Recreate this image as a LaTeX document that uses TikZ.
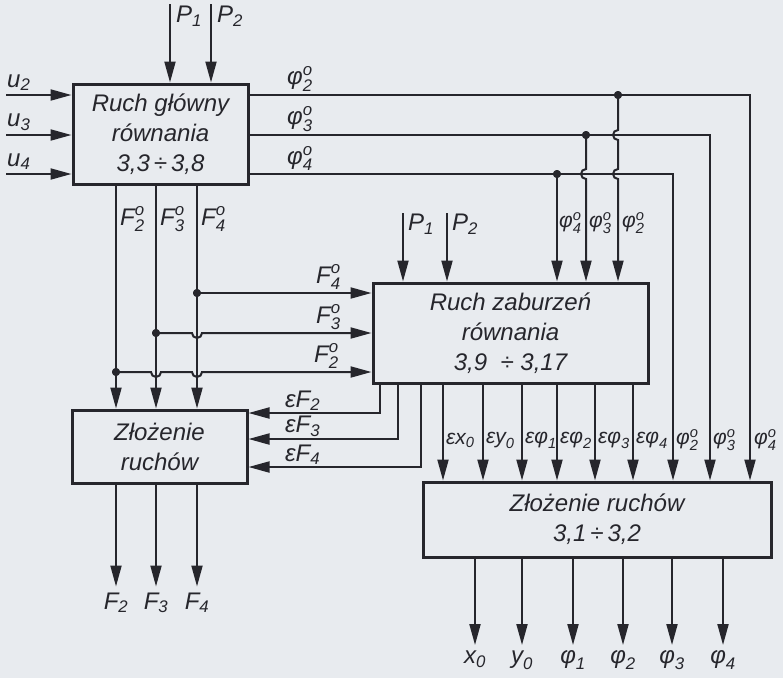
\documentclass[tikz,border=0pt]{standalone}
\usepackage{fontspec}
\usepackage{amsmath}
\setmainfont{Liberation Sans}
\usetikzlibrary{arrows.meta,calc}
\definecolor{paper}{HTML}{E8EBEF}
\definecolor{ink}{HTML}{26262C}
\newcommand{\vsub}[2]{$\text{#1}_{\text{#2}}$}
\newcommand{\vsubo}[2]{$\text{#1}^{\text{o}}_{\text{#2}}$}
\tikzset{
  block/.style={draw=ink,line width=3pt,inner sep=0pt,align=center,text=ink,font=\fontsize{24}{30}\selectfont\itshape},
  wire/.style={draw=ink,line width=2pt},
  arrow/.style={wire,-{Triangle[length=21pt,width=11pt]}},
  joint/.style={circle,fill=ink,inner sep=0pt,minimum size=8pt},
  lbl/.style={inner sep=1pt,text=ink,font=\fontsize{24}{28}\selectfont\itshape},
  slbl/.style={lbl,inner sep=0pt,font=\fontsize{21}{26}\selectfont\itshape},
}

\begin{document}
\begin{tikzpicture}[x=1pt,y=-1pt]
    \fill[paper] (0,0) rectangle (783,678);
    \useasboundingbox (0,0) rectangle (783,678);
    % blocks
    \node[block,minimum width=175pt,minimum height=100pt] (main) at (160.5,134) {Ruch główny\\równania\\3,3\,÷\,3,8};
    \node[block,minimum width=275pt,minimum height=100pt] (pert) at (510.5,333) {Ruch zaburzeń\\równania\\3,9 \ ÷ 3,17};
    \node[block,minimum width=175pt,minimum height=73pt] (compL) at (159.5,446.5) {Złożenie\\ruchów};
    \node[block,minimum width=348pt,minimum height=75pt] (compR) at (597,519.5) {Złożenie ruchów\\3,1\,÷\,3,2};
    % inputs of the main motion
    \coordinate (u2) at (6,95);
    \coordinate (u3) at (6,135);
    \coordinate (u4) at (6,174);
    \foreach \n in {2,3,4} {
      \draw[arrow] (u\n) -- (u\n -| main.west);
    }
    \node[lbl,anchor=south west] at (6,92) {\vsub{u}{2}};
    \node[lbl,anchor=south west] at (6,132) {\vsub{u}{3}};
    \node[lbl,anchor=south west] at (6,171) {\vsub{u}{4}};
    \coordinate (p1) at (170,4);
    \coordinate (p2) at (211,4);
    \draw[arrow] (p1) -- (p1 |- main.north);
    \draw[arrow] (p2) -- (p2 |- main.north);
    \node[lbl,anchor=north west] at (175,5) {\vsub{P}{1}};
    \node[lbl,anchor=north west] at (216,5) {\vsub{P}{2}};
    % angles of the main motion
    \coordinate (k2) at (750,95);
    \coordinate (k3) at (710,135);
    \coordinate (k4) at (673,174);
    \foreach \n in {2,3,4} {
      \draw[arrow] (u\n -| main.east) -- (k\n) -- (k\n |- compR.north);
    }
    \node[lbl,anchor=south west] at (286,93) {\vsubo{φ}{2}};
    \node[lbl,anchor=south west] at (286,133) {\vsubo{φ}{3}};
    \node[lbl,anchor=south west] at (286,172) {\vsubo{φ}{4}};
    \node[joint] (j2) at (618,95) {};
    \node[joint] (j3) at (586,135) {};
    \node[joint] (j4) at (557,174) {};
    \draw[arrow] (j2.center) -- ($(j2 |- u3)+(0,-5)$) arc[start angle=270,end angle=90,radius=5]
      -- ($(j2 |- u4)+(0,-5)$) arc[start angle=270,end angle=90,radius=5] -- (j2 |- pert.north);
    \draw[arrow] (j3.center) -- ($(j3 |- u4)+(0,-5)$) arc[start angle=270,end angle=90,radius=5] -- (j3 |- pert.north);
    \draw[arrow] (j4.center) -- (j4 |- pert.north);
    \node[slbl,anchor=north west] at (559,212) {\vsubo{φ}{4}};
    \node[slbl,anchor=north west] at (589,212) {\vsubo{φ}{3}};
    \node[slbl,anchor=north west] at (622,212) {\vsubo{φ}{2}};
    \coordinate (q1) at (403,213);
    \coordinate (q2) at (447,213);
    \draw[arrow] (q1) -- (q1 |- pert.north);
    \draw[arrow] (q2) -- (q2 |- pert.north);
    \node[lbl,anchor=north west] at (407,213) {\vsub{P}{1}};
    \node[lbl,anchor=north west] at (451,213) {\vsub{P}{2}};
    % forces of the main motion
    \node[joint] (f2) at (116,372) {};
    \node[joint] (f3) at (156,333) {};
    \node[joint] (f4) at (197,293) {};
    \foreach \n in {2,3,4} {
      \draw[arrow] (f\n |- main.south) -- (f\n |- compL.north);
    }
    \node[lbl,anchor=north west] at (119,205) {\vsubo{F}{2}};
    \node[lbl,anchor=north west] at (159,205) {\vsubo{F}{3}};
    \node[lbl,anchor=north west] at (200,205) {\vsubo{F}{4}};
    \draw[arrow] (f4.center) -- (f4 -| pert.west);
    \draw[arrow] (f3.center) -- ($(f3 -| f4)+(-5,0)$) arc[start angle=180,end angle=0,radius=5] -- (f3 -| pert.west);
    \draw[arrow] (f2.center) -- ($(f2 -| f3)+(-5,0)$) arc[start angle=180,end angle=0,radius=5]
      -- ($(f2 -| f4)+(-5,0)$) arc[start angle=180,end angle=0,radius=5] -- (f2 -| pert.west);
    \node[joint] at (f2) {};
    \node[joint] at (f3) {};
    \node[joint] at (f4) {};
    \node[joint] at (j2) {};
    \node[joint] at (j3) {};
    \node[joint] at (j4) {};
    \node[lbl,anchor=south west] at (315,291) {\vsubo{F}{4}};
    \node[lbl,anchor=south west] at (315,331) {\vsubo{F}{3}};
    \node[lbl,anchor=south west] at (313,370) {\vsubo{F}{2}};
    % perturbed forces back to the left composition
    \coordinate (e2) at (380,413);
    \coordinate (e3) at (398,439);
    \coordinate (e4) at (421,467);
    \foreach \n in {2,3,4} {
      \draw[arrow] (e\n |- pert.south) -- (e\n) -- (e\n -| compL.east);
    }
    \node[lbl,anchor=south west] at (284,412) {\vsub{εF}{2}};
    \node[lbl,anchor=south west] at (284,438) {\vsub{εF}{3}};
    \node[lbl,anchor=south west] at (284,466) {\vsub{εF}{4}};
    % perturbations into the right composition
    \foreach \x/\t in {443/{\vsub{εx}{0}},483/{\vsub{εy}{0}},522/{\vsub{εφ}{1}},557/{\vsub{εφ}{2}},595/{\vsub{εφ}{3}},633/{\vsub{εφ}{4}}} {
      \draw[arrow] (\x,0 |- pert.south) -- (\x,0 |- compR.north);
      \node[slbl,anchor=west] at (\x+3,440) {\t};
    }
    \node[slbl,anchor=west] at (676,440) {\vsubo{φ}{2}};
    \node[slbl,anchor=west] at (713,440) {\vsubo{φ}{3}};
    \node[slbl,anchor=west] at (754,440) {\vsubo{φ}{4}};
    % outputs
    \foreach \n/\t in {2/{\vsub{F}{2}},3/{\vsub{F}{3}},4/{\vsub{F}{4}}} {
      \draw[arrow] (f\n |- compL.south) -- ++(0,102) node[lbl,below=4pt] {\t};
    }
    \foreach \x/\t in {475/{\vsub{x}{0}},522/{\vsub{y}{0}},573/{\vsub{φ}{1}},623/{\vsub{φ}{2}},672/{\vsub{φ}{3}},723/{\vsub{φ}{4}}} {
      \draw[arrow] (\x,0 |- compR.south) -- (\x,645) node[lbl,below=4pt] {\t};
    }
\end{tikzpicture}
\end{document}
